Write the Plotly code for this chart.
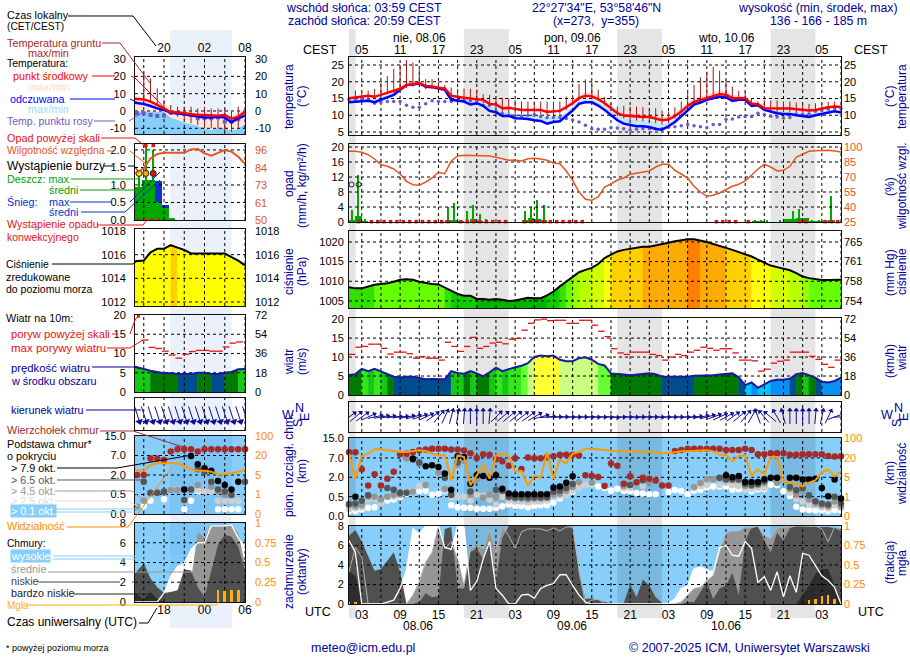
from bisect import bisect_right
import math

import plotly.graph_objects as go

W, H = 910, 660
N = None
FONT = "Liberation Sans"
NAVY = "#000099"
SKY = "#87CEFA"
ORANGE = "#FF8C00"
HUMID = "#E8551C"

# main panels: hours since 08.06 01 UTC
hours = list(range(78))
tick_hours = [2, 8, 14, 20, 26, 32, 38, 44, 50, 56, 62, 68, 74]
cest_labels = ["05", "11", "17", "23", "05", "11", "17", "23", "05", "11", "17", "23", "05"]
utc_labels = ["03", "09", "15", "21", "03", "09", "15", "21", "03", "09", "15", "21", "03"]
grid_hours = list(range(2, 78, 3))
night_start = [0, 17.98, 41.98, 65.98]
night_end = [1.05, 25, 49, 73]

# temperature
temp_mid = [15.1, 15.3, 15.6, 15.8, 15.5, 16.1, 16.7, 17.3, 17.9, 19, 19.2, 19.6, 18.7, 18.6, 18.2, 18, 15.8, 15.4, 15.2, 15, 14.9, 14.6, 13.4, 13.2, 12.1, 12.2, 11.9, 11.6, 11.6, 11.6, 11.6, 11, 11.2, 11.3, 12.4, 13.6, 15.1, 15.8, 15.6, 14.8, 13.6, 12.1, 10.6, 9.9, 9.7, 9.7, 9.5, 9.5, 8.9, 8.5, 8.7, 9.7, 11.1, 12.8, 14, 14.6, 15.1, 15.9, 16.3, 16.1, 15.1, 15.1, 15.1, 13.4, 13.3, 12.1, 12, 12, 12, 12, 11.8, 11.6, 11.4, 11.6, 12.1, 12.4, 12.6, 12.5]
temp_max = [15.4, 15.6, 15.8, 16, 15.8, 16.4, 17, 17.8, 18.5, 20, 20.4, 20.2, 19.2, 19, 18.6, 18.2, 16, 15.6, 15.4, 15.2, 15, 14.8, 13.8, 13.6, 12.5, 12.5, 12.2, 12, 12, 12, 12, 11.5, 11.6, 12, 13, 14.6, 16, 16.9, 16.8, 15.9, 14.7, 13.1, 11.6, 10.9, 10.6, 10.6, 10.4, 10.4, 9.9, 9.5, 9.6, 10.6, 12.1, 13.8, 15, 15.7, 16.1, 17, 17.4, 17.2, 16, 15.9, 15.7, 14, 13.8, 12.5, 12.4, 12.4, 12.4, 12.4, 12.2, 12, 11.8, 12, 12.5, 12.8, 13, 12.9]
feel_mid = [13.9, 14, 14.1, 14.3, 13.9, 14.6, 15.4, 16.1, 17.6, 19, 19.2, 19.5, 18.5, 18.4, 18, 17.6, 14.6, 14.3, 14.1, 13.2, 13.6, 12.8, 11.3, 10.9, 9.8, 9.8, 9.1, 9, 8.9, 8.5, 8.3, 7.5, 8, 8.2, 9.7, 11.4, 13.4, 13.9, 13.9, 12.9, 11.6, 10.1, 8.5, 7.5, 7, 6.7, 6.7, 6.5, 5.9, 5.7, 6.7, 8, 9.7, 11.6, 13.2, 13.8, 14.6, 15.1, 15.5, 15.3, 14.3, 14.6, 14.6, 12.8, 13, 11.6, 11, 10.6, 10.4, 10.4, 10, 9.7, 9.5, 10, 10.4, 10.9, 11.2, 10.8]
feel_max = [14.8, 14.9, 15, 15.1, 14.8, 15.4, 16.1, 16.8, 17.8, 19, 19.2, 19.5, 18.5, 18.4, 18, 17.6, 15.3, 15, 14.8, 14.4, 14.4, 13.9, 12.6, 12.4, 11, 11, 10.4, 10.3, 10.3, 10, 9.8, 9.3, 9.6, 9.8, 11, 12.6, 14.5, 15, 15, 14, 13, 11.6, 10, 9.2, 8.8, 8.6, 8.6, 8.4, 7.8, 7.2, 7.8, 9, 10.6, 12.6, 13.9, 14.5, 15, 15.6, 16, 15.9, 14.8, 14.8, 14.8, 13.3, 13.2, 12, 11.6, 11.4, 11.2, 11, 10.8, 10.6, 10.4, 10.8, 11.2, 11.6, 11.8, 11.5]
dew = [14.8, 14.8, 14.8, 14.6, 13.6, 13.8, 14.1, 14.1, 14.1, 13, 12.4, 12.4, 13.4, 14.3, 14.1, 14.1, 14.1, 14.3, 14.5, 14.3, 14.3, 13, 13, 11, 10.5, 10, 9.8, 9.8, 10, 10.2, 9.6, 9.3, 9.3, 9.3, 9, 8.6, 8, 7, 6, 5.8, 5.8, 6.3, 6.2, 6, 5.6, 5.8, 6, 6, 6, 6, 6.4, 6.6, 6.9, 7.2, 6.9, 6.6, 6.3, 7.2, 7.2, 8.8, 8.9, 9.5, 9.6, 9.6, 10.6, 10.2, 9.7, 9.5, 9.2, 9.3, 10.4, 10.3, 10.4, 11.2, 11.4, 11.8, 12, 12]
ground_max = [N, 17.4, 17.1, 17.4, 17.8, 19.6, 21.7, 23.8, 25, 26.5, 25.8, 23.7, 20.8, 20.8, 20, 19, 18.3, 17.8, 18, 17.9, 17.6, 16.3, 16.1, 15.1, 15.2, 15.1, 14.6, 14.1, 14.1, 14.1, 14.1, 14.1, 14.1, 14.1, 15.6, 16.1, 19.3, 20.7, 20, 17.6, 15.5, 13.6, 12.6, 12.8, 12.6, 12.6, 12.4, 11.6, 12.1, 11.4, 11.1, 12.4, 14.1, 17.6, 19, 21.3, 23, 24.5, 23.3, 20.5, 18.6, 17.3, 17.1, 15, 14.1, 14.6, 14.4, 14.4, 14.1, 14.1, 13.8, 13.4, 13.4, 13.6, 13.6, 14, 14.1, N]
ground_min = [N, 14, 14.5, 14.8, 15, 15.8, 16.3, 16.8, 17.2, 18.2, 18.6, 19, 17.8, 18, 17.6, 17.3, 15, 14.5, 14.2, 14, 13.8, 13.6, 12.5, 12, 11, 10.6, 10.5, 10.4, 10.3, 10.2, 10.2, 10, 10.2, 10.4, 11.5, 13, 14.5, 15.2, 15, 14.2, 13, 11.5, 9.8, 9, 8.6, 8.4, 8.2, 8, 7.6, 7.2, 7.6, 9, 10.5, 12, 13.5, 14, 14.6, 15.4, 15.8, 15.6, 14.6, 14.6, 14.6, 13, 12.8, 11.6, 11.2, 11, 11, 11, 10.9, 10.8, 10.6, 10.8, 11.2, 11.6, 11.8, N]

# precipitation, per hour starting at index
rain_mean = [0.3, 1.6, 0.1, 0, 0, 0, 0, 0, 0, 0, 0, 0, 0, 0, 0, 0.3, 0.3, 0.1, 0, 0.9, 0.2, 0, 0, 0, 0, 0, 0, 0.4, 1.0, 0.9, 0.4, 0, 0, 0, 0, 0, 0, 0, 0, 0, 0, 0, 0, 0, 0, 0, 0, 0, 0, 0, 0, 0, 0, 0, 0, 0, 0, 0, 0, 0, 0, 0, 0, 0.05, 0.1, 0, 0, 0, 0.7, 0.7, 1.0, 1.2, 0.2, 0.05, 0.05, 0.3, 0]
rain_max = [3.3, 12.6, 0.8, 0, 0, 0, 0, 0, 0, 0, 0, 0, 0, 0, 0, 4, 5.2, 0.6, 3, 4.5, 2.2, 0.8, 0.5, 0, 0, 0, 0, 3, 4, 6, 4.5, 0.5, 0.4, 0, 0, 0, 0, 0, 0, 0, 0, 0, 0, 0, 0, 0, 0, 0, 0, 0, 0, 0, 0, 0, 0, 0, 0, 0, 0, 0, 0, 0, 0, 0.3, 0.3, 0.3, 0, 0.4, 0.8, 3, 3.5, 0.5, 0.4, 0.3, 0.3, 7, 0]
conv_hours = [1, 3, 4, 5, 6, 7, 8, 9, 10, 11, 12, 13, 14, 15, 17, 18, 19, 20, 21, 22, 23, 24, 27, 28, 29, 30, 31, 32, 33, 34, 35, 36, 57, 58, 59, 60, 62, 70, 71, 74, 75, 76]
storm_hours = [0.4, 1.5]
storm_level = [10, 10]
humidity = [95.7, 95.7, 94.7, 92.3, 88, 82.3, 80.7, 78, 73, 65.7, 62.3, 61.7, 65, 69, 74.7, 73.3, 86, 91, 91.7, 91.7, 91.7, 91.3, 91, 89.7, 88, 86.7, 87, 86, 88.3, 88.7, 88, 86.7, 84, 83.3, 76, 66.7, 55, 47.7, 46.7, 50, 60, 63, 67, 69, 72.7, 74, 75, 76, 80, 82.7, 82.7, 76.7, 73, 69, 60.7, 55, 50.7, 51.7, 54, 57.7, 60.7, 62.7, 66, 71.7, 78, 82.7, 80, 76, 76.7, 80.7, 90, 92.7, 95.7, 96.3, 96.7, 96.7, 96, 95]

# pressure and wind
pressure = [1008.5, 1008.2, 1008.2, 1008.7, 1009.1, 1009.3, 1009.5, 1009.9, 1010.4, 1010.5, 1010.4, 1009.9, 1009.6, 1009.3, 1009.2, 1008.4, 1007.6, 1006.8, 1006.3, 1006.3, 1005.5, 1005.5, 1005.3, 1005.5, 1005.3, 1005, 1005.1, 1005.5, 1005.8, 1005.7, 1005.7, 1006.4, 1007.4, 1008.7, 1009.9, 1011.2, 1012.3, 1012.9, 1013.4, 1014.4, 1015.9, 1016.8, 1017.6, 1018, 1018.3, 1018.6, 1018.8, 1018.8, 1019.1, 1019.5, 1019.8, 1020.2, 1020.5, 1020.7, 1020.7, 1020.4, 1020, 1019.5, 1019.1, 1018.5, 1018, 1017.4, 1016.9, 1016.3, 1015.5, 1014.7, 1014, 1013.6, 1013.2, 1012.8, 1012.1, 1011.2, 1010.8, 1010.5, 1010.3, 1010.3, 1010.3, 1010.4]
wind = [5.3, 5.5, 6.9, 6.3, 6.9, 6.2, 5.6, 4.8, 4.6, 4.8, 4.8, 4.4, 4.15, 4.2, 4.2, 4.15, 6.3, 5.8, 5.6, 6.3, 5.7, 4.9, 6, 7.2, 6.3, 6.9, 7.3, 7.7, 8.4, 10.05, 10.4, 10.2, 10.4, 9.3, 8.9, 8.9, 9.7, 9.95, 9.3, 8.2, 7.8, 5.7, 5.6, 5.4, 5.2, 5.4, 5.5, 5.7, 5.5, 4.8, 4.8, 4.8, 4.8, 4.8, 5.1, 5.1, 5.2, 5.2, 5.4, 5.5, 5.7, 4.7, 2.6, 3.3, 1.9, 2.8, 3.7, 4, 4, 4.3, 5.5, 5.8, 5.3, 4.6, 3.5, 3.3, 3.7, 4.6]
gust = [10.7, 12.6, 12.8, 13.4, 13.4, 12.3, 10.8, 11.3, 11.3, 10.9, 9.7, 10.1, 9.7, 9.7, 9.2, 13.9, 12.8, 11.5, 12.8, 15.2, 12.3, 12.8, 13.7, 13.9, 13.5, 14.7, 14.9, 17.1, 18.9, 19.8, 20, 19.6, 19.7, 19.7, 18.9, 18.9, 19.7, 19.7, 18.4, 16.8, 15.4, 12.2, 11.1, 10.7, 11.3, 11.3, 11.3, 10.7, 10.4, 9.2, 10, 10.7, 10.4, 11.3, 11.8, 12.6, 12.3, 11.8, 12.2, 12.2, 11.1, 9.2, 9.2, 9, 6.3, 6.8, 8.4, 8.9, 9.2, 11.3, 11.3, 11.3, 10.2, 9.4, 8.1, 7.3, 9.2]
wind_to = [55, 50, 55, 65, 78, 80, 82, 85, 85, 80, 75, 72, 65, 55, 40, 25, 15, 10, 5, 0, 0, 0, 5, 45, 50, 50, 50, 52, 55, 60, 75, 85, 88, 88, 90, 90, 90, 90, 92, 92, 92, 95, 92, 90, 92, 90, 90, 90, 92, 90, 90, 90, 90, 88, 85, 80, 75, 70, 65, 62, 55, 50, 40, 30, 340, 320, 310, 330, 345, 0, 0, 0, 0, 5, 12, 25, 70, 90]

# cloud base, on the axis steps 0 / 0.5 / 2 / 7 / 15 km = 0..4
base_ticks = [4, 3, 2, 1, 0]
base_labels = ["15.0", "7.0", "2.0", "0.5", "0.0"]
vis_labels = ["100", "20", "5", "1", "0"]
cloud_top = [3.29, 3.29, 2.41, 1.57, 2.16, 1.57, 1.93, 2.28, 3.19, 3.22, 3.31, 3.4, 3.43, 3.48, 3.48, 3.48, 3.43, 3.43, 3.38, 3.24, 3.0, 3.19, 3.17, 2.93, 2.83, 2.6, 2.98, 2.43, 3.02, 2.98, 2.98, 3.03, 3.09, 3.16, 3.16, 3.16, 3.12, 2.1, 2.07, 2.02, 1.55, 2.71, 2.59, 1.66, 2.05, 1.74, 1.97, 1.93, 1.84, 1.57, 1.57, 3.36, 3.41, 3.48, 3.48, 3.48, 3.48, 3.48, 3.48, 3.41, 3.41, 3.41, 3.48, 3.41, 3.19, 3.19, 3.24, 3.24, 3.24, 3.16, 3.16, 3.19, 3.19, 3.19, 3.19, 3.1, 3.07, 3.09]
base_79 = [N, 1.0, N, N, N, N, N, N, N, N, 2.97, N, 2.57, 2.62, 2.53, 2.19, 1.36, 3.09, 3.05, 1.67, 2.1, 2.07, 1.98, 2.1, 1.41, 1.16, 1.12, 1.12, 1.12, 1.12, 1.12, 1.12, 1.47, 1.52, 1.72, 2.05, N, N, N, N, N, N, N, N, N, N, N, N, N, N, N, N, N, N, N, N, N, N, N, 2.1, 2, 2.07, 1.76, 1.76, 1.76, 1.9, 1.97, 1.97, N, 1.98, 1.98, 1.88, 1.88, 1.93, 1.45, 1.02, 1.88, 0.9]
base_65 = [0.62, 0.64, 0.79, 1.07, N, N, 1.45, 1.36, 1.2, 1.2, 2.9, 2.76, N, N, N, 1.98, 1.1, 2.78, N, 1.27, N, N, N, 1.36, 1.3, 1.0, 0.95, 0.95, 0.95, 0.95, 0.95, 0.95, 1.25, 1.3, 1.45, 1.65, N, N, N, N, N, N, N, N, 1.6, N, 1.85, N, N, N, N, N, N, N, N, N, N, N, 1.98, 1.9, 1.9, 1.9, 1.65, 1.6, 1.65, 1.8, N, N, N, 1.5, 1.33, 1.45, 1.07, 0.76, 0.64, 0.6, 1.0, 0.64]
base_45 = [0.55, 0.5, 0.55, 1.0, 1.0, 0.85, 1.0, 1.1, 1.1, 2.97, 1.25, 2.7, 1.6, N, 2.25, 1.4, 1.1, 2.65, 2.85, 1.1, 1.9, 0.95, 1.1, 1.0, 1.3, 0.95, 0.9, 0.9, 0.85, 0.9, 0.9, 0.95, 1.1, 1.15, 1.3, 1.5, 1.75, N, 1.7, N, N, N, N, 1.55, 1.6, N, 1.85, 1.75, N, N, N, N, N, N, 1.5, 1.7, 1.9, 1.9, 1.95, 1.85, 1.85, 1.85, 1.55, 1.55, 1.6, 1.7, N, 1.7, N, 1.4, 1.1, 1.3, 0.85, 0.65, 0.55, 0.5, 0.75, 0.5]
base_25 = [0.35, 0.4, 0.45, 0.85, 0.9, 0.7, 1.0, 1.0, 1.1, 1.2, 1.3, 1.55, 1.58, N, 2.25, 1.35, 0.95, 1.0, 1.0, 0.8, 1.1, 1.05, 0.85, 0.6, 1.0, 0.8, 0.75, 0.75, 0.7, 0.75, 0.75, 0.8, 1.0, 1.05, 1.1, 1.3, 1.45, 1.6, N, N, N, N, N, 1.45, 1.45, N, 1.55, N, N, N, N, N, N, N, 1.45, 1.55, 1.6, N, 1.6, 1.7, 1.6, 1.55, 1.4, 1.4, 1.45, 1.45, N, N, N, 1.2, 0.85, 0.75, 0.6, 0.55, 0.45, 0.4, 0.55, 0.4]
base_01 = [0.25, 0.25, 0.33, 0.42, 0.45, N, 0.8, 0.85, 1.0, 1.15, 1.28, 1.28, 1.3, 1.1, 1.15, 1.3, 0.55, 0.45, 0.42, 0.42, 0.38, 0.38, 0.38, 0.42, 0.5, 0.6, 0.52, 0.52, 0.45, 0.5, 0.55, 0.55, 0.7, 0.9, 1.1, 1.25, 1.6, 1.6, 1.65, 1.53, 1.45, 1.31, 1.41, 1.29, 1.28, 1.19, 1.16, 1.12, 1.12, N, 1.24, 1.34, 1.29, 1.12, 1.31, 1.36, 1.47, 1.53, 1.52, 1.52, 1.36, 1.38, 1.38, 1.28, 1.38, 1.38, 1.62, 1.59, 1.28, 1.03, 0.48, 0.34, 0.31, 0.29, 0.29, 0.26, 0.31, 0.28]
visibility = [3.22, 1.93, 3.1, 3.22, 3.45, 3.45, 3.4, 3.36, 3.31, 3.31, 3.36, 3.4, 3.36, 3.22, 3.14, 3.14, 1.84, 3.14, 3.05, 1.59, 2.1, 2.62, 1.93, 3.14, 3.22, 3.1, 2.28, 2.33, 1.55, 2.1, 1.98, 3.31, 1.93, 2.91, 2.71, 3.22, 3.31, 3.48, 3.48, 3.45, 3.4, 3.36, 3.34, 3.34, 3.34, 3.33, 3.31, 3.31, 3.28, 3.24, 3.24, 3.31, 3.34, 3.34, 3.36, 3.38, 3.4, 3.34, 3.17, 3.17, 2.83, 3.1, 3.14, 2.07, 2.41, 2.14, 3.05, 3.05, 1.79, 1.72, 1.67, 1.53, 1.72, 1.84, 2.28, 2.4, 2.05, 2.31]

# cloud cover in octas
cover_high = [6.5, 5.3, 0, 0, 0, 0, 0.2, 0.4, 1.6, 3.5, 7.7, 7.2, 8, 8, 8, 5.8, 5.6, 8, 7.9, 1.4, 2.3, 4.6, 6.4, 1.6, 0.9, 0, 0, 0.9, 1, 0.6, 1.6, 1.9, 2.1, 3, 3, 1.9, 0.9, 0.2, 0, 0, 0, 0, 0, 0, 0, 0, 0, 0, 0, 0, 0.1, 0.5, 1.6, 1.9, 3.6, 3.8, 3.5, 3.3, 5.8, 6, 5, 4.9, 6.4, 5.7, 2.2, 2.8, 1.4, 3.3, 0.7, 2.9, 1.2, 5.2, 5, 4, 2.9, 2.4, 1.7, 0]
cover_mid = [3.3, 5.8, 4.8, 0, 0, 0, 0, 0, 0, 0, 0.9, 2.3, 4.3, 5.3, 8, 5.7, 6.4, 4.6, 1.9, 5.7, 6, 5.7, 7.6, 5.3, 8, 7, 5.7, 7.4, 7.7, 7.7, 7.7, 7.5, 7.8, 7.5, 7.9, 7.9, 3.6, 0, 0.4, 0.5, 0, 0, 0, 0, 0, 0, 0, 0, 0, 0, 0, 0, 0.2, 0.9, 1.6, 1.7, 2.4, 2.9, 5.3, 7.3, 7.5, 7.5, 7.9, 7.8, 8, 7, 6.7, 7.8, 7.9, 7.9, 8, 8, 8, 8, 7.7, 6.4, 7.9, 7.5]
cover_low = [7, 7.6, 6.4, 4.8, 3.4, 3.6, 4.5, 5.3, 3.3, 0, 0, 0.2, 1.1, 0.7, 0.8, 7.7, 7.9, 1.6, 1.6, 5.3, 5.7, 4.6, 6.2, 2.3, 6.8, 8, 8, 8, 8, 8, 8, 8, 8, 8, 8, 7.9, 2.9, 0.5, 0.6, 0.4, 0.2, 0.1, 0, 0.1, 2, 0.7, 2.5, 1.9, 0.7, 0.1, 0, 0, 0, 0.2, 0.2, 1.2, 2.3, 0.5, 1.6, 1.9, 3.2, 0.9, 6.4, 7.9, 7.9, 6.5, 5.3, 7.3, 6.5, 7.8, 8, 8, 7.9, 7.9, 7.9, 7.9, 7.8, 7.7]
cover_vlow = [3.3, 2.9, 0, 0, 0, 0, 0, 0, 0, 0, 0, 0, 0, 0, 0, 0, 0, 0, 0, 0, 0, 0, 0, 0, 0, 0, 0, 0, 0, 0, 0, 0, 0, 0, 0, 0, 0, 0, 0, 0, 0, 0, 0, 0, 0, 0, 0, 0, 0, 0, 0, 0, 0, 0, 0, 0, 0, 0, 0, 0, 0, 0, 0, 0, 0, 0, 0, 0, 0, 0, 0, 0.9, 1.9, 3.1, 3.6, 3.6, 1.9, 0.2]
fog_hours = [0, 1, 72, 73, 74, 75, 76]
fog = [0.02, 0.02, 0.047, 0.07, 0.1, 0.11, 0.07]

# left key panels: hours since 07.06 00 UTC, one sample run of the same forecast
left_hours = [13.7] + list(range(15, 31))
left_dot_hours = list(range(14, 31))
left_local = [18, 24, 30]
left_local_labels = ["20", "02", "08"]
left_utc_labels = ["18", "00", "06"]
left_grid = [15, 18, 21, 24, 27, 30]
sun_start, sun_end = 18.9, 28.05

left_temp = [7.1, 6.7, 5.4, 3.5, 1.5, -0.8, -0.8, -1.3, -1.9, -2.3, -2.3, -2.7, -2.7, -2.3, -4.4, -3.3, -0.4]
left_feel = [4.8, 4, 2.9, 1.5, 0.6, -1, -1.3, -1.9, -2.3, -3.3, -3.7, -3.7, -3.3, -3.7, -6.5, -4.2, -2.7]
left_pink = [9, 8, 6.5, 4.5, 2.5, 0.3, 0, -0.5, -1, -1.7, -1.9, -2.2, -2.4, -2.6, -2.6, -1, 2.2]
left_sky = [-0.3, -0.3, -0.3, -0.3, -0.3, -3.8, -5, -6.7, -7.5, -8.5, -10, -10.8, -9.5, -10, -11.3, -10, -7.5]
left_dew = [-1.3, -1.3, -2.3, -2.9, -2.7, -1, -1.3, -1.7, -2.3, -4.2, -4.2, -4.2, -3.7, -6.2, -6.2, -4.8, N]
left_ground_hours = list(range(15, 30))
left_ground_max = [22.7, 18.8, 13, 6.3, 3.5, 2.5, 2.5, 2.5, 1.5, 2.5, 1.5, 1.5, 1.5, -0.4, 2.5]
left_ground_min = [6.3, 5.5, 3, 1, -2.3, -3.3, -5.2, -7.1, -8.1, -10, -10, -10, -12, -12, -10]

left_bar_hours = [14.2, 15.2, 16.2, 17.2, 18.2, 19.2]
left_rain = [0.94, 1.15, 1.15, 0.52, 0.33, 0.05]
left_snow = [0, 0, 0, 1.1, 0.43, 0]
left_spike_hours = [14.3, 15.3, 16.4]
left_spike = [1.33, 2.17, 2.0]
left_storm = [1.33, 1.33, 1.33]
left_storm_colors = ["#FFE000", "#FFA500", "#E81010"]
left_over_hours = [15.3, 16.4]
left_over = [2.13, 2.13]
left_conv_hours = [14.2, 15.2, 16.2, 17.2]
left_humidity = [80.7, 84, 90.5, 93.4, 94.2, 94.2, 94.5, 94.2, 96.4, 96.7, 93.8, 92.3, 94.2, 96, 95, 91.6, 87]

left_pressure = [1015.45, 1015.5, 1016.2, 1016.5, 1016.5, 1016.8, 1016.6, 1016.4, 1016.1, 1016.1, 1016.1, 1016.1, 1016.1, 1016.1, 1015.8, 1015.5, 1015.1]
left_wind = [6.6, 5.9, 5.5, 5.2, 4.9, 4.9, 4.7, 4.7, 4.7, 5, 5, 4.7, 4.7, 5, 5.2, 5.9, 6]
left_gust_start = [14.7, 15.7, 16.7, 17.7, 18.7, 19.7, 20.7, 21.7, 22.7, 23.7, 24.7, 25.7, 26.7, 27.7, 28.7]
left_gust = [13.5, 11.6, 11.3, 10.6, 9.6, 8.8, 9.8, 10.5, 10.8, 10.8, 10.6, 10.6, 11.7, 12.7, 13]
left_over_gust = [19.7]
left_wind_to = [162] * 17

left_top = [2.0, 2.0, 2.84, 2.84, 2.77, 3.2, 3.32, 3.32, 3.32, 3.2, 3.32, 3.32, 3.32, 3.32, 3.32, 3.32, 3.32]
left_79 = [N, N, N, N, N, N, N, 1.26, 2.97, 2.55, 2.34, 2.22, 1.69, 1.49, 1.26, 1.66, N]
left_65 = [N, 1.66, 1.09, 1.09, 1.15, N, N, 0.72, 1.26, 2.29, 2.17, 1.66, 1.26, 1.15, 0.97, N, 1.66]
left_45 = [0.38, 0.68, 1.06, 1.1, 1.12, 1.23, 1.23, 1.26, N, 1.49, N, 1.4, 1.15, 0.97, N, N, N]
left_25 = [0.41, N, N, N, N, 1.26, 1.26, N, N, 1.23, 1.15, 1.15, 0.68, 0.68, 0.68, 0.68, N]
left_01 = [N, 0.41, 0.68, N, 0.75, N, N, 0.24, 0.68, 1.15, N, 1.15, 0.24, 0.24, 0.24, 0.24, N]
left_vis = [2.26, 2.22, 2.51, 2.6, 2.6, 2.6, 2.6, 2.46, 2.29, 2.22, 2.22, 2.17, 2.03, 2.05, 2.08, 2.17, 2.26]

left_high = [0, 0, 0, 0, 0.9, 2.6, 3.6, 3.9, 5.3, 6, 6, 7.7, 7.7, 7.7, 7.8, 6.5, 5.6]
left_mid = [0, 0, 0, 0, 0, 0, 0, 0.5, 2.2, 7.1, 6.5, 7.8, 7.8, 7.8, 7.8, 7, 3.9]
left_low = [2.9, 3.9, 2.4, 1.5, 0.9, 1, 1.2, 3.3, 3.2, 1.5, 0.5, 3.2, 5.8, 6.8, 6.6, 5.6, 3.2]
left_vlow = [0.9, 0.3, 1, 0.3, 0, 0, 0, 0, 0, 0, 0, 0, 0, 0, 0, 0, 0]
left_fog_hours = [26, 27, 28, 29]
left_fog = [0.15, 0.14, 0.15, 0.15]

press_bins = [1006, 1007.9, 1009, 1011, 1012, 1013, 1014.5, 1016.7, 1018.7, 1020.55]
press_colors = ["#00B400", "#12CC00", "#33E000", "#66FF00", "#99FF00", "#B8FF00", "#D4FF00", "#FFFF00", "#FFD000", "#FFAA00", "#FF8000"]
wind_bins = [3.3, 4.1, 4.85, 5.75, 6.8, 7.4, 8.3, 10]
wind_colors = ["#00C4FF", "#0A90F0", "#004C8C", "#007A00", "#14C814", "#33E81A", "#66FF33", "#CCFF80", "#FFFF33"]

fig = go.Figure()
shapes = []
notes = []
panelCount = 0


def px(x):
    return x / W


def py(y):
    return 1 - y / H


def text(x, y, s, color="black", size=12, anchor="left", angle=0, bg=None):
    notes.append(dict(
        x=px(x), y=py(y), xref="paper", yref="paper", text=s, showarrow=False,
        xanchor=anchor, yanchor="middle", textangle=angle, bgcolor=bg, borderpad=0,
        font=dict(family=FONT, size=size, color=color),
    ))


def leader(color, *pts, width=1):
    path = "M" + " L".join(f"{px(x) :.5f},{py(y) :.5f}" for x, y in pts)
    shapes.append(dict(type="path", path=path, xref="paper", yref="paper",
                       line=dict(color=color, width=width), layer="above"))


def addPanel(box, xrange, yrange, ytick, ylab, rtick, rlab, rrange=None, rcolor="black",
             xtick=None, xlab=None, xside="bottom", standoff=(2, 2), xstandoff=0):
    """One framed panel: x axis, left y axis, right y axis overlaid on it."""
    global panelCount
    panelCount += 1
    n = panelCount
    xn = "" if n == 1 else str(n)
    yl = "" if n == 1 else str(2 * n - 1)
    yr = str(2 * n)
    x0, y0, x1, y1 = box
    rrange = rrange or yrange
    fig.layout["xaxis" + xn] = dict(
        domain=[px(x0), px(x1)], range=xrange, anchor="y" + yl, side=xside,
        tickvals=xtick or [], ticktext=xlab or [], ticks="", showgrid=False, zeroline=False,
        showline=True, mirror=True, linecolor="#111", linewidth=1, tickangle=0,
        ticklabelstandoff=xstandoff, tickfont=dict(family=FONT, size=12, color="black"),
    )
    fig.layout["yaxis" + yl] = dict(
        domain=[py(y1), py(y0)], range=yrange, anchor="x" + xn, tickvals=ytick, ticktext=ylab,
        ticks="", showgrid=False, zeroline=False, showline=True, mirror=True,
        linecolor="#111", linewidth=1, ticklabelstandoff=standoff[0],
        tickfont=dict(family=FONT, size=11, color="black"),
    )
    fig.layout["yaxis" + yr] = dict(
        domain=[py(y1), py(y0)], range=rrange, anchor="x" + xn, overlaying="y" + yl, side="right",
        tickvals=rtick, ticktext=rlab, ticks="", showgrid=False, zeroline=False, showline=False,
        ticklabelstandoff=standoff[1], tickfont=dict(family=FONT, size=11, color=rcolor),
    )
    fig.add_trace(go.Scatter(x=[xrange[0]], y=[rrange[0]], mode="markers", opacity=0,
                             xaxis="x" + xn, yaxis="y" + yr))
    return dict(x="x" + xn, y="y" + yl, r="y" + yr, xrange=xrange, yrange=yrange)


def addGrid(p, gridX, gridY):
    """Grid goes on as a trace so that it sits over the fills, like the original."""
    gx, gy = [], []
    for v in gridX:
        gx += [v, v, None]
        gy += [p["yrange"][0], p["yrange"][1], None]
    for v in gridY:
        gx += [p["xrange"][0], p["xrange"][1], None]
        gy += [v, v, None]
    fig.add_trace(go.Scatter(x=gx, y=gy, mode="lines", xaxis=p["x"], yaxis=p["y"],
                             line=dict(color="black", width=1, dash="3px,3px")))


def line(p, x, y, color, width=1, axis="y", **kw):
    fig.add_trace(go.Scatter(x=x, y=y, mode="lines", xaxis=p["x"], yaxis=p[axis],
                             line=dict(color=color, width=width), **kw))


def band(p, x, top, bottom, color):
    fig.add_trace(go.Scatter(x=x, y=bottom, mode="lines", line=dict(width=0),
                             xaxis=p["x"], yaxis=p["y"]))
    fig.add_trace(go.Scatter(x=x, y=top, mode="lines", line=dict(width=0), fill="tonexty",
                             fillcolor=color, xaxis=p["x"], yaxis=p["y"]))


def dots(p, x, y, color, size, symbol="circle", axis="y", **kw):
    fig.add_trace(go.Scatter(x=x, y=y, mode="markers", xaxis=p["x"], yaxis=p[axis], cliponaxis=False,
                             marker=dict(color=color, size=size, symbol=symbol, line=dict(width=0)), **kw))


def stripFill(p, x, y, bins, colors):
    """Filled area under a curve, coloured hour by hour from its value."""
    base = p["yrange"][0]
    i = 0
    while i < len(y) - 1:
        c = colors[bisect_right(bins, y[i])]
        j = i + 1
        while j < len(y) - 1 and colors[bisect_right(bins, y[j])] == c:
            j += 1
        sx = x[i:j + 1]
        sy = y[i:j + 1]
        fig.add_trace(go.Scatter(
            x=[sx[0]] + sx + [sx[-1]], y=[base] + sy + [base], mode="lines", fill="toself",
            fillcolor=c, line=dict(width=0.5, color=c), xaxis=p["x"], yaxis=p["y"],
        ))
        i = j


def stems(p, x, lo, hi, color, width=1):
    sx, sy = [], []
    for a, b, c in zip(x, lo, hi):
        if b is None or c is None:
            continue
        sx += [a, a, None]
        sy += [b, c, None]
    line(p, sx, sy, color, width)


def dashes(p, start, vals, color="#E81010"):
    sx, sy = [], []
    for a, v in zip(start, vals):
        sx += [a, a + 1, None]
        sy += [v, v, None]
    line(p, sx, sy, color, 1.3)


def arrows(p, x, to, pxPerHour, length, color="#101090", head=6):
    """Centred arrows, the y axis of these panels is in pixels."""
    sx, sy, tipX, tipY = [], [], [], []
    yc = sum(p["yrange"]) / 2
    for h, d in zip(x, to):
        rad = math.radians(d)
        dx = math.sin(rad) * length / 2
        dy = math.cos(rad) * length / 2
        sx += [h - dx / pxPerHour, h + dx / pxPerHour, None]
        sy += [yc - dy, yc + dy, None]
        tipX.append(h + dx / pxPerHour)
        tipY.append(yc + dy)
    fig.add_trace(go.Scatter(x=sx, y=sy, mode="lines", xaxis=p["x"], yaxis=p["y"], cliponaxis=False,
                             line=dict(color=color, width=1)))
    fig.add_trace(go.Scatter(x=tipX, y=tipY, mode="markers", xaxis=p["x"], yaxis=p["y"], cliponaxis=False,
                             marker=dict(color=color, size=head, symbol="triangle-up", angle=to, line=dict(width=0))))


def cover(p, x, high, mid, low, vlow):
    for vals, c in ((high, "white"), (mid, "#969696"), (low, "#505050"), (vlow, "#2C2C2C")):
        fig.add_trace(go.Scatter(x=x, y=vals, mode="lines", fill="tozeroy", fillcolor=c,
                                 line=dict(width=0), xaxis=p["x"], yaxis=p["y"]))


# ---- shapes under everything: sky background first, then day and night bands ----
main_base = (349, 438, 841, 516)
main_cover = (349, 526, 841, 604)
left_base = (135, 436, 245, 514)
left_cover = (135, 523, 245, 602)
for b in (main_base, main_cover, left_base, left_cover):
    shapes.append(dict(type="rect", xref="paper", yref="paper", x0=px(b[0]), x1=px(b[2]),
                       y0=py(b[3]), y1=py(b[1]), fillcolor=SKY, line=dict(width=0), layer="below"))

# ---- main column ----
mainX = [0, 77]
mt = addPanel((349, 57, 841, 135), mainX, [4.1, 27.4], [25, 20, 15, 10, 5], ["25", "20", "15", "10", "5"],
              [25, 20, 15, 10, 5], ["25", "20", "15", "10", "5"], xtick=tick_hours, xlab=cest_labels,
              xside="top", xstandoff=-3)
mr = addPanel((349, 144, 841, 222), mainX, [0, 20.8], [20, 16, 12, 8, 4, 0], ["20", "16", "12", "8", "4", "0"],
              [100, 85, 70, 55, 40, 25], ["100", "85", "70", "55", "40", "25"], rrange=[25, 103], rcolor=HUMID)
mp = addPanel((349, 231, 841, 308), mainX, [1003.2, 1022.8], [1020, 1015, 1010, 1005], ["1020", "1015", "1010", "1005"],
              [1020, 1015, 1010, 1005], ["765", "761", "758", "754"])
mw = addPanel((349, 318, 841, 395), mainX, [0, 20.3], [20, 15, 10, 5, 0], ["20", "15", "10", "5", "0"],
              [20, 15, 10, 5, 0], ["72", "54", "36", "18", "0"])
md = addPanel((349, 402, 841, 432), mainX, [0, 30], [], [], [], [])
mb = addPanel(main_base, mainX, [0, 4.03], base_ticks, base_labels, base_ticks, vis_labels, rcolor=ORANGE)
mc = addPanel(main_cover, mainX, [0, 8], [8, 6, 4, 2, 0], ["8", "6", "4", "2", "0"],
              [1, 0.75, 0.5, 0.25, 0], ["1", "0.75", "0.5", "0.25", "0"], rrange=[0, 1], rcolor=ORANGE,
              xtick=tick_hours, xlab=utc_labels)

# temperature
band(mt, hours, temp_max, temp_mid, "#FFD8D8")
band(mt, hours, feel_max, feel_mid, "#BDE6FF")
addGrid(mt, grid_hours, [25, 20, 15, 10, 5])
stems(mt, hours, ground_min, ground_max, "#A01818")
dots(mt, hours, dew, "#6A5ACD", 3.5)
line(mt, hours, feel_mid, "#0000FF", 2.5)
line(mt, hours, temp_mid, "#FF0000", 2.5)

# precipitation
bar_hours = [h + 0.5 for h in hours[:77]]
fig.add_trace(go.Bar(x=bar_hours, y=rain_max, width=0.2, marker=dict(color="#00A800", line=dict(width=0)),
                     xaxis=mr["x"], yaxis=mr["y"]))
fig.add_trace(go.Bar(x=bar_hours, y=rain_mean, width=1, marker=dict(color="#00A800", line=dict(width=0)),
                     xaxis=mr["x"], yaxis=mr["y"]))
addGrid(mr, grid_hours, [20, 16, 12, 8, 4])
fig.add_trace(go.Scatter(x=storm_hours, y=storm_level, mode="markers", xaxis=mr["x"], yaxis=mr["y"],
                         marker=dict(color="rgba(0,0,0,0)", size=5, line=dict(color="#222", width=1))))
dots(mr, [h + 0.5 for h in conv_hours], [0.1] * len(conv_hours), "#E81010", 3.5, "square")
line(mr, hours, humidity, HUMID, 1.5, axis="r")

# pressure
stripFill(mp, hours, pressure, press_bins, press_colors)
addGrid(mp, grid_hours, [1020, 1015, 1010, 1005])
line(mp, hours, pressure, "black", 2)

# wind
stripFill(mw, hours, wind, wind_bins, wind_colors)
addGrid(mw, grid_hours, [15, 10, 5])
dashes(mw, hours, gust)
line(mw, hours, wind, "#1A1AA0", 2)

# wind direction
addGrid(md, grid_hours, [])
arrows(md, hours, wind_to, 6.39, 14, head=5)

# cloud base and visibility
addGrid(mb, grid_hours, [3, 2, 1])
for vals, c in ((base_01, "white"), (base_25, "#CFCFCF"), (base_45, "#969696"), (base_65, "#555555"),
                (base_79, "black"), (cloud_top, "#A52A2A")):
    dots(mb, hours, vals, c, 6.5)
fig.add_trace(go.Scatter(x=hours, y=visibility, mode="lines", xaxis=mb["x"], yaxis=mb["r"],
                         line=dict(color="#FF9900", width=2)))

# cloud cover
cover(mc, hours, cover_high, cover_mid, cover_low, cover_vlow)
addGrid(mc, grid_hours, [6, 4, 2])
line(mc, hours, cover_mid, "#B4B4B4", 1)
line(mc, hours, cover_high, "white", 1.3)
fig.add_trace(go.Bar(x=fog_hours, y=fog, width=0.35, marker=dict(color="#FFB000", line=dict(width=0)),
                     xaxis=mc["x"], yaxis=mc["r"]))

# ---- left key column ----
leftX = [13.7, 30]
lt = addPanel((135, 57, 245, 134), leftX, [-13.3, 31.2], [30, 20, 10, 0, -10], ["30", "20", "10", "0", "-10"],
              [30, 20, 10, 0, -10], ["30", "20", "10", "0", "-10"], xtick=left_local, xlab=left_local_labels,
              xside="top", standoff=(6, 9), xstandoff=-1)
lr = addPanel((135, 144, 245, 220), leftX, [0, 2.17], [2, 1.5, 1, 0.5, 0], ["2.0", "1.5", "1.0", "0.5", "0.0"],
              [96, 84, 73, 61, 50], ["96", "84", "73", "61", "50"], rrange=[50, 100], rcolor=HUMID, standoff=(6, 9))
lp = addPanel((135, 229, 245, 306), leftX, [1011.66, 1018.17], [1018, 1016, 1014, 1012], ["1018", "1016", "1014", "1012"],
              [1018, 1016, 1014, 1012], ["1018", "1016", "1014", "1012"], standoff=(6, 9))
lw = addPanel((135, 315, 245, 392), leftX, [0, 20], [20, 15, 10, 5, 0], ["20", "15", "10", "5", "0"],
              [20, 15, 10, 5, 0], ["72", "54", "36", "18", "0"], standoff=(6, 9))
ld = addPanel((135, 398, 245, 430), leftX, [0, 32], [], [], [], [])
lb = addPanel(left_base, leftX, [0, 4], base_ticks, base_labels, base_ticks, vis_labels,
              rcolor=ORANGE, standoff=(6, 9))
lc = addPanel(left_cover, leftX, [0, 8], [8, 6, 4, 2, 0], ["8", "6", "4", "2", "0"],
              [1, 0.75, 0.5, 0.25, 0], ["1", "0.75", "0.5", "0.25", "0"], rrange=[0, 1], rcolor=ORANGE,
              xtick=left_local, xlab=left_utc_labels, standoff=(6, 9), xstandoff=-3)

band(lt, left_hours, left_sky, [-13.3] * len(left_hours), SKY)
band(lt, left_hours, left_pink, left_sky, "#FFE8DC")
addGrid(lt, left_grid, [20, 10, 0, -10])
stems(lt, left_ground_hours, left_ground_min, left_ground_max, "#A01818")
dots(lt, left_dot_hours, left_dew, "#6A5ACD", 4, "square")
line(lt, left_hours, left_feel, "#0000FF", 2.5)
line(lt, left_hours, left_temp, "#FF0000", 2.5)

fig.add_trace(go.Bar(x=left_bar_hours, y=left_snow, width=1, marker=dict(color="#1030D0", line=dict(width=0)),
                     xaxis=lr["x"], yaxis=lr["y"]))
fig.add_trace(go.Bar(x=left_bar_hours, y=left_rain, width=1, marker=dict(color="#00A800", line=dict(width=0)),
                     xaxis=lr["x"], yaxis=lr["y"]))
fig.add_trace(go.Bar(x=left_spike_hours, y=left_spike, width=0.16, marker=dict(color="#00A800", line=dict(width=0)),
                     xaxis=lr["x"], yaxis=lr["y"]))
addGrid(lr, left_grid, [2, 1.5, 1, 0.5])
fig.add_trace(go.Scatter(x=left_spike_hours, y=left_storm, mode="markers", xaxis=lr["x"], yaxis=lr["y"],
                         marker=dict(color=left_storm_colors, size=6, line=dict(color="#222", width=1))))
dots(lr, left_over_hours, left_over, "#E81010", 3.5, "square")
dots(lr, left_conv_hours, [0.02] * len(left_conv_hours), "#E81010", 2.5, "square")
line(lr, left_hours, left_humidity, HUMID, 2, axis="r")

stripFill(lp, left_hours, left_pressure, press_bins, press_colors)
addGrid(lp, left_grid, [1016, 1014, 1012])
line(lp, left_hours, left_pressure, "black", 2)

stripFill(lw, left_hours, left_wind, wind_bins, wind_colors)
addGrid(lw, left_grid, [15, 10, 5])
dashes(lw, left_gust_start, left_gust)
dots(lw, [14.2], left_over_gust, "#E81010", 3, "square")
line(lw, left_hours, left_wind, "#1A1AA0", 2)

addGrid(ld, left_grid, [])
arrows(ld, left_dot_hours, left_wind_to, 6.75, 16, head=7)

addGrid(lb, left_grid, [3, 2, 1])
for vals, c in ((left_01, "white"), (left_25, "#CFCFCF"), (left_45, "#969696"), (left_65, "#555555"),
                (left_79, "black"), (left_top, "#A52A2A")):
    dots(lb, left_dot_hours, vals, c, 6.5)
fig.add_trace(go.Scatter(x=left_hours, y=left_vis, mode="lines", xaxis=lb["x"], yaxis=lb["r"],
                         line=dict(color="#FF9900", width=2)))

cover(lc, left_hours, left_high, left_mid, left_low, left_vlow)
addGrid(lc, left_grid, [6, 4, 2])
line(lc, left_hours, left_high, "white", 1.3)
fig.add_trace(go.Bar(x=left_fog_hours, y=left_fog, width=0.4, marker=dict(color="#FFB000", line=dict(width=0)),
                     xaxis=lc["x"], yaxis=lc["r"]))

# ---- day / night bands, from the hour arrays ----
for a, b in zip(night_start, night_end):
    shapes.append(dict(type="rect", xref=mt["x"], yref="paper", x0=a, x1=b, y0=py(618), y1=py(29),
                       fillcolor="rgba(0,0,0,0.1)", line=dict(width=0), layer="below"))
shapes.append(dict(type="rect", xref=lt["x"], yref="paper", x0=sun_start, x1=sun_end, y0=py(628), y1=py(30),
                   fillcolor="rgba(0,80,200,0.08)", line=dict(width=0), layer="below"))

# ---- header and footer ----
text(285, 8, "wschód słońca: 03:59 CEST", NAVY, size=12.3)
text(287, 21, "zachód słońca: 20:59 CEST", NAVY, size=12.3)
text(596, 8, "22°27'34\"E, 53°58'46\"N", NAVY, size=12.3, anchor="center")
text(596, 21, "(x=273,  y=355)", NAVY, size=12.3, anchor="center")
text(818, 8, "wysokość (min, środek, max)", NAVY, size=12.3, anchor="center")
text(818, 21, "136 - 166 - 185 m", NAVY, size=12.3, anchor="center")
text(363, 648, "meteo@icm.edu.pl", NAVY, size=12.5, anchor="center")
text(749, 648, "© 2007-2025 ICM, Uniwersytet Warszawski", NAVY, size=12.5, anchor="center")
text(5, 648, "* powyżej poziomu morza", "black", size=9)

text(419, 38, "nie, 08.06", anchor="center")
text(572, 38, "pon, 09.06", anchor="center")
text(726, 38, "wto, 10.06", anchor="center")
text(320, 50, "CEST", size=12.5, anchor="center")
text(871, 50, "CEST", size=12.5, anchor="center")
text(318, 612, "UTC", size=12.5, anchor="center")
text(871, 612, "UTC", size=12.5, anchor="center")
text(418, 626, "08.06", anchor="center")
text(572, 626, "09.06", anchor="center")
text(726, 626, "10.06", anchor="center")

# ---- rotated panel titles ----
for x, y, s in [(289, 97, "temperatura"), (302, 97, "(°C)"), (289, 184, "opad"), (302, 186, "(mm/h, kg/m²/h)"),
                (289, 272, "ciśnienie"), (302, 272, "(hPa)"), (289, 362, "wiatr"), (302, 362, "(m/s)"),
                (289, 466, "pion. rozciągł. chm."), (302, 471, "(km)"),
                (289, 572, "zachmurzenie"), (302, 572, "(oktanty)"),
                (902, 97, "temperatura"), (890, 97, "(°C)"), (902, 186, "wilgotność wzgl."), (890, 187, "(%)"),
                (902, 272, "ciśnienie"), (890, 273, "(mm Hg)"), (902, 358, "wiatr"), (890, 361, "(km/h)"),
                (902, 474, "widzialność"), (890, 473, "(km)"), (902, 563, "mgła"), (890, 563, "(frakcja)")]:
    text(x, y, s, NAVY, anchor="center", angle=-90)

# compass letters beside the wind arrows
for x0 in (288, 887):
    text(x0, 415, "W", NAVY, size=12.5, anchor="center")
    text(x0 + 11, 408, "N", NAVY, size=12.5, anchor="center")
    text(x0 + 17, 417, "E", NAVY, size=12.5, anchor="center", angle=-90)
    text(x0 + 10, 423, "S", NAVY, size=12.5, anchor="center", angle=-90)

# ---- left key text ----
BROWN = "#A52A2A"
RED = "#E81010"
BLUE = "#0033CC"
key = [
    (6, 15, "Czas lokalny", "black"), (6, 27, "(CET/CEST)", "black"),
    (6, 43, "Temperatura gruntu", BROWN), (27, 53, "max/min", BROWN),
    (6, 64, "Temperatura:", "black"), (12, 76, "punkt środkowy", "#FF0000"), (28, 87, "max/min", "#FFD9C8"),
    (9, 99, "odczuwana", "#0000FF"), (27, 109, "max/min", "#A0D8FF"), (6, 121, "Temp. punktu rosy", "#6A5ACD"),
    (6, 138, "Opad powyżej skali", RED), (6, 151, "Wilgotność względna", HUMID),
    (6, 166, "Wystąpienie burzy", "black"), (6, 179, "Deszcz: max", "#00A000"), (48, 190, "średni", "#00A000"),
    (6, 202, "Śnieg:", BLUE), (48, 202, "max", BLUE), (48, 212, "średni", BLUE),
    (6, 224, "Wystąpienie opadu", RED), (6, 237, "konwekcyjnego", RED),
    (5, 264, "Ciśnienie", "black"), (5, 277, "zredukowane", "black"), (5, 289, "do poziomu morza", "black"),
    (5, 318, "Wiatr na 10m:", "black"), (10, 334, "poryw powyżej skali", RED), (10, 348, "max porywy wiatru", RED),
    (10, 368, "prędkość wiatru", NAVY), (10, 381, "w środku obszaru", NAVY), (10, 410, "kierunek wiatru", NAVY),
    (6, 430, "Wierzchołek chmur", BROWN), (6, 444, "Podstawa chmur*", "black"), (6, 456, "o pokryciu", "black"),
    (10, 468, "> 7.9 okt.", "black"), (10, 480, "> 6.5 okt.", "#555555"), (10, 491, "> 4.5 okt.", "#999999"),
    (10, 501, "> 2.5 okt.", "#DDDDDD"), (6, 526, "Widzialność", ORANGE), (6, 543, "Chmury:", "black"),
    (10, 569, "średnie", "#999999"), (10, 581, "niskie", "#444444"), (10, 593, "bardzo niskie", "#222222"),
    (6, 605, "Mgła", "#FFB000"), (6, 622, "Czas uniwersalny (UTC)", "black"),
]
key_sizes = {"Wystąpienie burzy": 12, "Czas uniwersalny (UTC)": 12, "Mgła": 10, "(CET/CEST)": 10.2,
             "Chmury:": 10.2, "Temperatura:": 10.4, "Wilgotność względna": 10.4, "Ciśnienie": 10.4,
             "do poziomu morza": 10.5, "Temp. punktu rosy": 10.5, "konwekcyjnego": 10.5,
             "prędkość wiatru": 11.3, "max porywy wiatru": 11.5, "poryw powyżej skali": 11.2}
for x, y, s, c in key:
    text(x, y, s, c, size=key_sizes.get(s, 10.8))
text(10, 511, "> 0.1 okt.", "white", size=10.8, bg=SKY)
text(10, 556, "wysokie", "white", size=10.8, bg=SKY)

leader("black", (68, 16), (133, 16), (156, 46))
leader(BROWN, (102, 43), (120, 43), (150, 83))
leader("#FF0000", (92, 76), (115, 76))
leader("#FF0000", (131, 76), (135, 78), (157, 100), (168, 112))
leader("#0000FF", (70, 99), (115, 99))
leader("#0000FF", (130, 99), (138, 103))
leader("#6A5ACD", (94, 121), (115, 121))
leader("#6A5ACD", (129, 121), (142, 113))
leader(RED, (101, 138), (135, 138), (146, 147))
leader(HUMID, (107, 151), (112, 151))
leader(HUMID, (130, 151), (145, 163))
leader("black", (104, 166), (113, 166))
leader("black", (128, 166), (134, 166), (138, 171))
leader("#00A000", (71, 179), (139, 179))
leader("#00A000", (80, 190), (147, 190))
leader(BLUE, (70, 202), (112, 202))
leader(BLUE, (130, 202), (160, 172))
leader(BLUE, (81, 212), (125, 212), (160, 180))
leader(RED, (97, 225), (143, 225), (147, 220))
leader("black", (52, 264), (133, 264), (136, 262))
leader(RED, (112, 334), (118, 334))
leader(RED, (130, 334), (135, 320), (139, 315))
leader(RED, (107, 348), (130, 348), (143, 340))
leader(NAVY, (92, 367), (135, 367), (140, 369))
leader(NAVY, (86, 410), (141, 410))
leader(BROWN, (100, 431), (133, 431), (183, 447))
leader("black", (57, 468), (117, 468), (192, 455))
leader("#555555", (57, 480), (135, 480), (143, 480))
leader("#999999", (55, 491), (132, 491), (143, 500))
leader("#DDDDDD", (55, 501), (128, 501), (138, 506))
leader(SKY, (55, 509), (135, 509))
leader(SKY, (55, 512), (135, 512))
leader(ORANGE, (67, 527), (128, 527), (172, 467))
leader(SKY, (53, 556), (185, 556))
leader(SKY, (53, 559), (185, 559))
leader("#999999", (48, 572), (193, 572))
leader("#444444", (38, 582), (120, 582))
leader("#444444", (132, 582), (135, 582))
leader("#222222", (74, 594), (150, 594))
leader("#FFB000", (27, 605), (217, 605), (219, 600))
leader("black", (139, 623), (148, 623), (157, 608))

fig.update_layout(
    width=W, height=H, margin=dict(l=0, r=0, t=0, b=0, autoexpand=False), showlegend=False, hovermode=False,
    paper_bgcolor="white", plot_bgcolor="rgba(0,0,0,0)", barmode="overlay", bargap=0,
    shapes=shapes, annotations=notes, font=dict(family=FONT, size=12),
)

fig.write_html("out.html", config={"displayModeBar": False}, post_script="document.body.style.margin='0';")
